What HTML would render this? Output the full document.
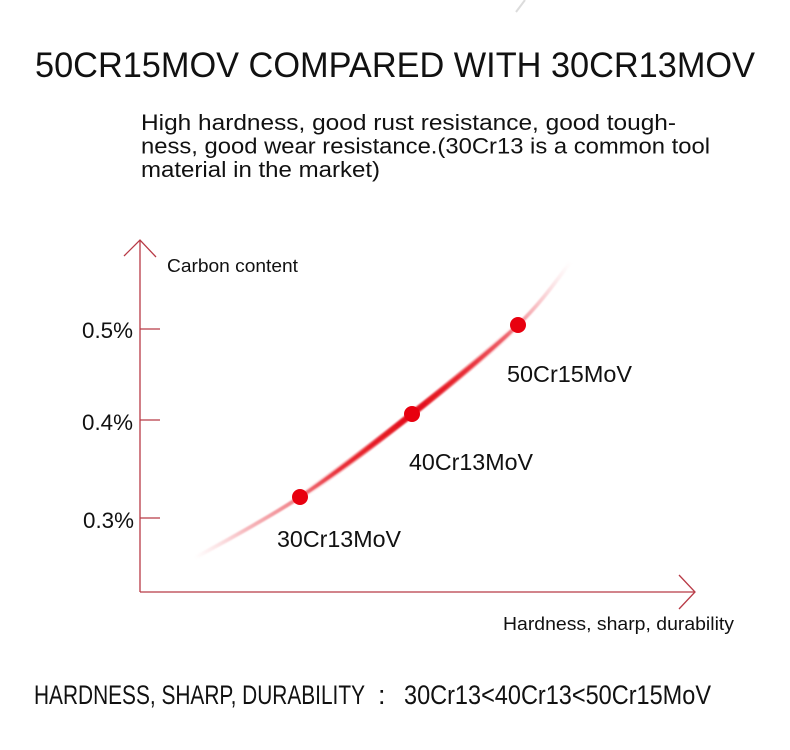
<!DOCTYPE html>
<html>
<head>
<meta charset="utf-8">
<style>
  html,body{margin:0;padding:0;background:#fff;}
  body{width:790px;height:750px;overflow:hidden;}
  svg{display:block;}
  text{font-family:"Liberation Sans","DejaVu Sans",sans-serif;fill:#111;}
</style>
</head>
<body>
<svg width="790" height="750" viewBox="0 0 790 750" xmlns="http://www.w3.org/2000/svg">
  <defs>
    <linearGradient id="g1" gradientUnits="userSpaceOnUse" x1="195" y1="558" x2="572" y2="263">
      <stop offset="0" stop-color="#f3a0a8" stop-opacity="0"/>
      <stop offset="0.12" stop-color="#f08890" stop-opacity="0.6"/>
      <stop offset="0.35" stop-color="#e8303a" stop-opacity="0.92"/>
      <stop offset="0.55" stop-color="#e5121c" stop-opacity="1"/>
      <stop offset="0.8" stop-color="#ec5560" stop-opacity="0.85"/>
      <stop offset="1" stop-color="#f5b0b8" stop-opacity="0"/>
    </linearGradient>
    <linearGradient id="g2" gradientUnits="userSpaceOnUse" x1="300" y1="497" x2="518" y2="325">
      <stop offset="0" stop-color="#e8141e" stop-opacity="0"/>
      <stop offset="0.5" stop-color="#e20f19" stop-opacity="0.95"/>
      <stop offset="1" stop-color="#e8141e" stop-opacity="0"/>
    </linearGradient>
    <filter id="blur" x="-10%" y="-10%" width="120%" height="120%">
      <feGaussianBlur stdDeviation="0.8"/>
    </filter>
  </defs>

  <line x1="525" y1="0" x2="516" y2="12" stroke="#dcdcdc" stroke-width="2"/>

  <text x="35" y="77" font-size="35" textLength="720" lengthAdjust="spacingAndGlyphs">50CR15MOV COMPARED WITH 30CR13MOV</text>

  <text x="141" y="130" font-size="22" textLength="535" lengthAdjust="spacingAndGlyphs" fill="#222">High hardness, good rust resistance, good tough-</text>
  <text x="141" y="153.5" font-size="22" textLength="569" lengthAdjust="spacingAndGlyphs" fill="#222">ness, good wear resistance.(30Cr13 is a common tool</text>
  <text x="141" y="177" font-size="22" textLength="239" lengthAdjust="spacingAndGlyphs" fill="#222">material in the market)</text>

  <g stroke="#b83a46" stroke-width="1.3" fill="none">
    <line x1="140" y1="240" x2="140" y2="592"/>
    <polyline points="124,256 140,240 156,257"/>
    <line x1="140" y1="592" x2="694" y2="592"/>
    <polyline points="679,575 695,592 679,609"/>
    <line x1="140" y1="329" x2="160" y2="329"/>
    <line x1="140" y1="420" x2="160" y2="420"/>
    <line x1="140" y1="518" x2="160" y2="518"/>
  </g>

  <text x="167" y="272" font-size="18.5" textLength="131" lengthAdjust="spacingAndGlyphs">Carbon content</text>
  <text x="503" y="630" font-size="18.5" textLength="231" lengthAdjust="spacingAndGlyphs">Hardness, sharp, durability</text>

  <text x="82" y="338" font-size="22" textLength="51" lengthAdjust="spacingAndGlyphs" fill="#222">0.5%</text>
  <text x="82" y="430" font-size="22" textLength="51" lengthAdjust="spacingAndGlyphs" fill="#222">0.4%</text>
  <text x="83" y="528" font-size="22" textLength="51" lengthAdjust="spacingAndGlyphs" fill="#222">0.3%</text>

  <g filter="url(#blur)">
    <path d="M195,558 C212.5,547.8 263.8,521 300,497 C336.2,473 375.7,442.7 412,414 C448.3,385.3 491.7,350.2 518,325 C544.3,299.8 561.3,273.3 570,263"
          stroke="url(#g1)" stroke-width="3.8" fill="none" stroke-linecap="round"/>
    <path d="M300,497 C336.2,473 375.7,442.7 412,414 C448.3,385.3 491.7,350.2 518,325"
          stroke="url(#g2)" stroke-width="6.5" fill="none" stroke-linecap="round"/>
  </g>

  <circle cx="300" cy="497" r="8" fill="#e8000f"/>
  <circle cx="412" cy="414" r="8" fill="#e8000f"/>
  <circle cx="518" cy="325" r="8" fill="#e8000f"/>

  <text x="277" y="547" font-size="23" textLength="124" lengthAdjust="spacingAndGlyphs" fill="#222">30Cr13MoV</text>
  <text x="409" y="470" font-size="23" textLength="124" lengthAdjust="spacingAndGlyphs" fill="#222">40Cr13MoV</text>
  <text x="507" y="382" font-size="23" textLength="125" lengthAdjust="spacingAndGlyphs" fill="#222">50Cr15MoV</text>

  <text x="34" y="704" font-size="27" textLength="331" lengthAdjust="spacingAndGlyphs">HARDNESS, SHARP, DURABILITY</text>
  <text x="378" y="704" font-size="27">:</text>
  <text x="404" y="704" font-size="27" textLength="307" lengthAdjust="spacingAndGlyphs">30Cr13&lt;40Cr13&lt;50Cr15MoV</text>
</svg>
</body>
</html>
